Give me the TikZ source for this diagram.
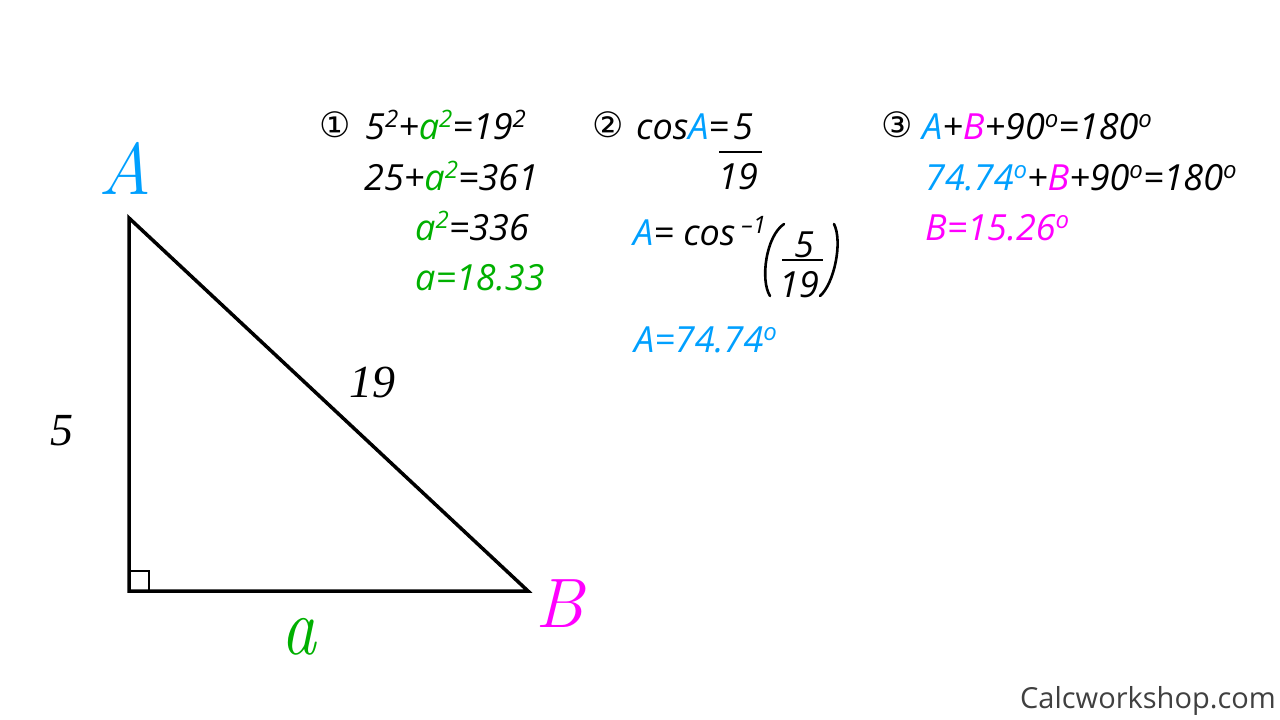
\documentclass[tikz,border=0pt]{standalone}
\usepackage{fontspec}
\setmainfont{Open Sans}
\newfontfamily\lmfont{Latin Modern Roman}
\newfontfamily\lsfont{Liberation Serif}
\newfontfamily\djfont{DejaVu Sans}
\definecolor{blu}{RGB}{0,160,255}
\definecolor{grn}{RGB}{0,176,0}
\definecolor{mag}{RGB}{255,0,255}
\definecolor{wm}{RGB}{64,64,64}
\newcommand{\sqr}[1]{\raisebox{12pt}{\fontsize{24}{24}\selectfont #1}}
\newcommand{\gA}{{\color{blu}A}}
\newcommand{\gB}{{\color{mag}B}}
\newcommand{\ga}{{\color{grn}a\sqr{2}}}
\tikzset{
  eq/.style={anchor=base west, inner sep=0pt, font=\fontsize{36}{42}\selectfont\itshape},
  eqc/.style={anchor=base, inner sep=0pt, font=\fontsize{36}{42}\selectfont\itshape},
  circ/.style={anchor=center, inner sep=0pt, font=\fontsize{35}{35}\selectfont\djfont\itshape},
  parenline/.style={line width=2.6pt, line cap=round},
  vlabel/.style={anchor=center, inner sep=0pt},
  side/.style={anchor=center, inner sep=0pt, font=\fontsize{46}{46}\selectfont\lsfont\itshape},
  tri/.style={line width=3.5pt, line join=miter},
  fbar/.style={line width=2pt}
}
\begin{document}
\begin{tikzpicture}[x=1pt,y=-1pt]
\useasboundingbox[fill=white] (0,0) rectangle (1280,720);
% triangle
\coordinate (C) at (129,591);
\coordinate (T) at (129,218);
\coordinate (R) at (528,591);
\draw[tri] (T) -- (C) -- (R) -- cycle;
\draw[line width=2.5pt] (129,571) rectangle (149,591);
% vertex labels
\node[vlabel, text=blu, font=\fontsize{73}{73}\selectfont\lmfont\itshape] (lA) at (125,168) {A};
\node[vlabel, text=mag, font=\fontsize{70}{70}\selectfont\lmfont\itshape] (lB) at (560,604) {B};
\node[vlabel, text=grn, font=\fontsize{82}{82}\selectfont\lmfont\itshape] (la) at (299,637) {\scalebox{0.85}[1]{a}};
\node[side] (l5) at (62,431) {5};
\node[side] (l19) at (372,382) {19};
% section 1
\node[circ] (c1) at (335,125) {①};
\node[eq] (e11) at (365,139) {5\sqr{2}+\ga=19\sqr{2}};
\node[eq] (e12) at (364,190) {25+\ga=361};
\node[eq] (e13) at (415,240) {\ga=336};
\node[eq, text=grn] (e14) at (415,290) {a=18.33};
% section 2
\node[circ] (c2) at (608,125) {②};
\node[eq] (e21) at (636,139) {cos\gA=};
\node[eqc] (f5a) at (743,139) {5};
\coordinate (b1l) at (719,152);
\coordinate (b1r) at (762,152);
\draw[fbar] (b1l) -- (b1r);
\node[eqc] (f19a) at (738,189) {19};
\node[eq] (e22) at (633,245) {\gA= cos\,\sqr{–1}};
% parentheses
\coordinate (pl1) at (784,224);
\coordinate (pl2) at (770,296);
\coordinate (pr1) at (834,224);
\coordinate (pr2) at (820,296);
\draw[parenline] (pl1) .. controls (766,236) and (760,280) .. (pl2);
\draw[parenline] (pr1) .. controls (843,242) and (834,284) .. (pr2);
\node[eqc] (f5b) at (804,257) {5};
\coordinate (b2l) at (782,260);
\coordinate (b2r) at (823,260);
\draw[fbar] (b2l) -- (b2r);
\node[eqc] (f19b) at (799,297) {19};
\node[eq, text=blu] (e23) at (634,352) {A=74.74\sqr{o}};
% section 3
\node[circ] (c3) at (897,125) {③};
\node[eq] (e31) at (922,139) {\gA+\gB+90\sqr{o}=180\sqr{o}};
\node[eq] (e32) at (925,190) {{\color{blu}74.74\sqr{o}}+\gB+90\sqr{o}=180\sqr{o}};
\node[eq, text=mag] (e33) at (925,240) {B=15.26\sqr{o}};
% watermark
\node[anchor=base east, inner sep=0pt, text=wm, font=\fontsize{29}{29}\selectfont] (wmk) at (1276,708) {Calcworkshop.com};
\end{tikzpicture}
\end{document}
